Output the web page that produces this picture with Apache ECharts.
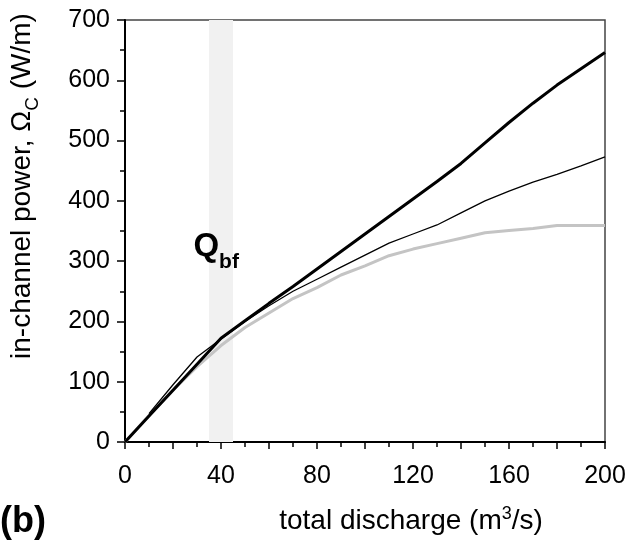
<!DOCTYPE html>
<html lang="en">
<head>
<meta charset="utf-8">
<title>In-channel power vs total discharge</title>
<script src="https://cdn.jsdelivr.net/npm/echarts@6/dist/echarts.min.js"></script>
<style>
  html, body { margin: 0; padding: 0; background: #fff; }
  #chart { width: 632px; height: 543px; }
</style>
</head>
<body>
<div id="chart"></div>
<script>
// total discharge (m3/s)
const discharge = [0, 10, 20, 30, 40, 50, 60, 70, 80, 90, 100, 110, 120, 130, 140, 150, 160, 170, 180, 190, 200];
// in-channel power (W/m), three curves (thin one starts at 10)
const thickBlack = [0, 43, 86, 129, 172, 201, 230, 258, 287, 316, 345, 374, 403, 432, 462, 496, 530, 562, 592, 619, 646];
const thinBlack  = [null, 47, 95, 141, 171, 200, 226, 250, 270, 290, 310, 330, 345, 360, 380, 400, 416, 431, 444, 458, 473];
const greyLine   = [0, 44, 86, 125, 160, 190, 214, 238, 256, 277, 292, 309, 320, 329, 338, 347, 351, 354, 359, 359, 359];
// bankfull discharge band
const bandStart = 35;
const bandEnd = 45;
const qbfLabelAt = [38, 324];

const FONT = 'Liberation Sans, Arial, sans-serif';

function pairs(ys) {
  return discharge.map((x, i) => [x, ys[i]]).filter(p => p[1] !== null);
}

var chart = echarts.init(document.getElementById('chart'));
chart.setOption({
  animation: false,
  backgroundColor: '#fff',
  textStyle: { fontFamily: FONT },
  grid: {
    left: 125, right: 27, top: 20, bottom: 101,
    show: true, borderColor: '#444', borderWidth: 1.5
  },
  xAxis: {
    type: 'value',
    min: 0, max: 200, interval: 20,
    axisLine: { show: true, onZero: false, lineStyle: { color: '#000', width: 2 } },
    axisTick: { show: true, inside: false, length: 7, lineStyle: { color: '#000', width: 1.5 } },
    minorTick: { show: true, splitNumber: 2, length: 5, lineStyle: { color: '#000', width: 1.5 } },
    splitLine: { show: false },
    axisLabel: {
      margin: 22, color: '#000', fontSize: 25, fontFamily: FONT,
      formatter: v => (v % 40 === 0 ? String(v) : '')
    }
  },
  yAxis: {
    type: 'value',
    min: 0, max: 700, interval: 100,
    axisLine: { show: true, lineStyle: { color: '#000', width: 2 } },
    axisTick: { show: true, inside: false, length: 8, lineStyle: { color: '#000', width: 1.5 } },
    minorTick: { show: true, splitNumber: 2, length: 5, lineStyle: { color: '#000', width: 1.5 } },
    splitLine: { show: false },
    axisLabel: { margin: 15, color: '#000', fontSize: 25, fontFamily: FONT }
  },
  series: [
    {
      name: 'band',
      type: 'line',
      data: [],
      silent: true,
      z: 1,
      markArea: {
        silent: true,
        itemStyle: { color: '#f1f1f1' },
        data: [[{ xAxis: bandStart }, { xAxis: bandEnd }]]
      },
      markPoint: {
        silent: true,
        symbol: 'circle',
        symbolSize: 0,
        data: [{ coord: qbfLabelAt }],
        label: {
          show: true,
          position: 'inside',
          formatter: '{q|Q}{s|bf}',
          rich: {
            q: { fontSize: 33, fontWeight: 'bold', color: '#000', fontFamily: FONT, verticalAlign: 'bottom', lineHeight: 34 },
            s: { fontSize: 21, fontWeight: 'bold', color: '#000', fontFamily: FONT, verticalAlign: 'bottom', lineHeight: 34, padding: [0, 0, -9, 0] }
          }
        }
      }
    },
    {
      name: 'grey',
      type: 'line',
      data: pairs(greyLine),
      showSymbol: false,
      z: 2,
      lineStyle: { color: '#c4c4c4', width: 3 }
    },
    {
      name: 'thin',
      type: 'line',
      data: pairs(thinBlack),
      showSymbol: false,
      z: 3,
      lineStyle: { color: '#000', width: 1.3 }
    },
    {
      name: 'thick',
      type: 'line',
      data: pairs(thickBlack),
      showSymbol: false,
      z: 4,
      lineStyle: { color: '#000', width: 3 }
    }
  ],
  graphic: [
    {
      type: 'text',
      x: 20, y: 186,
      rotation: Math.PI / 2,
      style: {
        text: '{a|in-channel power, Ω}{s|C}{a| (W/m)}',
        align: 'center',
        verticalAlign: 'middle',
        fill: '#000',
        rich: {
          a: { fontSize: 28, fontFamily: FONT, fill: '#000', lineHeight: 32, verticalAlign: 'bottom' },
          s: { fontSize: 19, fontFamily: FONT, fill: '#000', lineHeight: 32, verticalAlign: 'bottom', padding: [0, 0, -6, 0] }
        }
      }
    },
    {
      type: 'text',
      x: 411, y: 519,
      style: {
        text: '{a|total discharge (m}{p|3}{a|/s)}',
        align: 'center',
        verticalAlign: 'middle',
        fill: '#000',
        rich: {
          a: { fontSize: 28, fontFamily: FONT, fill: '#000', lineHeight: 32, verticalAlign: 'bottom' },
          p: { fontSize: 18, fontFamily: FONT, fill: '#000', lineHeight: 32, verticalAlign: 'bottom', padding: [0, 0, 12, 0] }
        }
      }
    },
    {
      type: 'text',
      x: 0, y: 522,
      style: {
        text: '(b)',
        align: 'left',
        verticalAlign: 'middle',
        fill: '#000',
        font: 'bold 36px ' + FONT
      }
    }
  ]
});
</script>
</body>
</html>
